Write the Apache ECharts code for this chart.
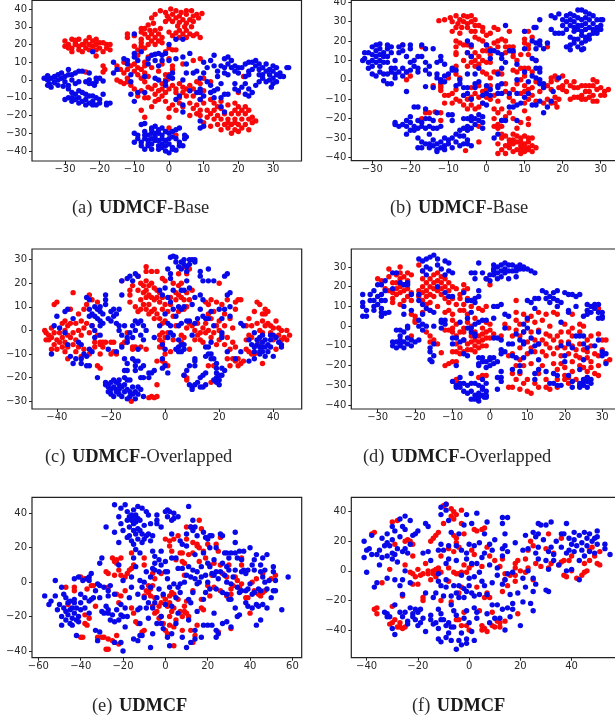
<!DOCTYPE html>
<html><head><meta charset="utf-8">
<style>html,body{margin:0;padding:0;background:#fff}#c{width:615px;height:721px}</style>
<script src="https://cdn.jsdelivr.net/npm/echarts@6/dist/echarts.min.js"></script>
</head><body><div id="c"></div>
<script>
const captions=[["(a)","UDMCF","-Base"],["(b)","UDMCF","-Base"],["(c)","UDMCF","-Overlapped"],["(d)","UDMCF","-Overlapped"],["(e)","UDMCF",""],["(f)","UDMCF",""]];
const aXTicks=[-30,-20,-10,0,10,20,30];
const aYTicks=[-40,-30,-20,-10,0,10,20,30,40];
const bXTicks=[-30,-20,-10,0,10,20,30];
const bYTicks=[-40,-30,-20,-10,0,10,20,30,40];
const cXTicks=[-40,-20,0,20,40];
const cYTicks=[-30,-20,-10,0,10,20,30];
const dXTicks=[-30,-20,-10,0,10,20,30];
const dYTicks=[-40,-30,-20,-10,0,10,20,30];
const eXTicks=[-60,-40,-20,0,20,40,60];
const eYTicks=[-40,-20,0,20,40];
const fXTicks=[-40,-20,0,20,40];
const fYTicks=[-40,-20,0,20,40];

const aRed=[[-2.5,39],[-1,38],[0.5,40],[2,39],[3.5,38],[5,39],[6.5,39],[8,37],[9.5,37.5],[-4,37],[-0.5,36],[1,37],[3,36],[5,37],[7,36],[8.5,35],[-5,35],[0,34.5],[2,35],[4,34],[6,34],[-1,33],[1,33],[3,32.5],[5,32],[7,33],[-4.5,32],[-6,31],[2.5,30.5],[4.5,30],[6.5,30],[3,28],[5,28],[-7,29],[-8,29],[-5.5,28],[-4,28],[-2.5,29],[2,26.5],[4,26],[6,26],[-7,26],[-5,26],[-3,26],[0,27],[1,25],[3,24],[5,24],[7,25],[8,26],[9,24],[-6,24],[-4,24],[-2,24],[-8,23],[-12,24],[-12,26],[-10,25],[-8,27],[-5,22],[-3,22],[-6,20],[-4,20],[-2,21],[-8,21],[-10,19],[-8,19],[-9,17],[-7,18],[0,18],[1,17],[-1,16],[2,17],
[-30,22],[-29,20],[-28,23],[-27,21],[-26,23],[-25,20],[-24,22],[-23,24],[-22,22],[-21,23],[-20,21],[-30,19],[-28,18],[-26,19],[-24,18],[-22,19],[-20,18],[-28,16],[-25,16],[-23,17],[-21,17],[-21,13.5],[-19,16],[-18,20],[-19,21],[-18,18],[-17,20],[-17,17],[-27,20],[-26,17],[-24.5,20],[-23,20],[-29,18],[-27,22.5],[-21,20],[-19,8],[-18.5,6],[-19,4.5],[-24,4.5],
[-15,8],[-14,6],[-13,10],[-13,4],[-15,0],[-14,-1],[-13,-2],[-12,-1],[-12,1],[-11,-3],[-12,6],[-11,8],[-10,9],[-10,5],[-9,7],[-9,3],[-8,6],[-8,1],[-7,8],[-7,4],[-7,-1],[-6,2],[-6,-4],[-5,7],[-5,-5],[-4,-8],[-3,-6],[-4,-3],[-2,-5],[-1,-7],[-2,-9],[0,-5],[1,-3],[2,-5],[3,-2],[4,-4],[4,-7],[5,-5],[5,-9],[6,-3],[7,-5],[7,-9],[3,-10],[2,-7],[-3,-11],[-1,-12],[1,-14],[0,-16],[2,-17],[4,-15],[3,-13],[6,-13],[7,-16],[6,-20],[9,-17],[8,-14],[9,-11],[10,-13],[10,-6],[9,-2],[10,1],[-6,-10],[-8,-6],[-9,-9],[-10,-5],[-7,-10],[-4,-12],[-5,-15],[-8,-17],[-7,-21],[0,-21],[1,6],[0,12],[-2,9],[-3,5],[-1,3],[1,8],[0,3],[-9,14],[-6,13],[-7,10],[4,9],[7,11],[9,12],[12,-1],[-2,-2],[-1,0],[-0.3,0.5],
[12,-11],[13,-13],[14,-15],[15,-12],[13,-17],[15,-16],[17,-14],[19,-13],[20,-15],[19,-17],[21,-17],[23,-17],[22,-15],[12,-19],[14,-20],[16,-19],[18,-19],[20,-19],[22,-19],[24,-21],[25,-23],[11,-21],[13,-22],[15,-22],[17,-22],[19,-22],[21,-22],[23,-22],[12,-26],[14,-25],[16,-25],[18,-25],[20,-25],[22,-25],[24,-24],[15,-28],[17,-27],[19,-28],[21,-27],[23,-28],[18,-30],[20,-29],[10,-24],[9,-20],[11,-17],[8,-19],[17,-24],[19,-24],[0,-27],[2,-31],[21.5,2],[20,-7],[8,-1]];
const aBlue=[[-36,1],[-35,2.5],[-35,0],[-34.5,-2],[-34,1],[-33,-1],[-33,2],[-32,0],[-32,3],[-31,4],[-31,1],[-30,-1],[-30,2],[-29,3],[-29,-3],[-28,0],[-28,3],[-27,4],[-26,5],[-25,5],[-29,6],[-27,-2],[-34,-4],[-32,-3],[-35,-3],[-33,-1.5],[-30.5,-3.5],[-26,-1],[-23,0],[-24,-1],[-22,-2],[-21,-1],[-20,1],[-21,1],[-23,4],[-21.5,-3],[-19,-0.5],[-23,-2],
[-29,-5],[-28,-7],[-27,-8],[-26,-6],[-30,-11],[-29,-10],[-28,-12],[-27,-11],[-26,-10],[-25,-12],[-24,-11],[-23,-13],[-22,-12],[-21,-10],[-22,-9],[-20,-11],[-20,-13],[-24,-8],[-25,-7],[-21,-14],[-23,-9],[-18,-14],[-17,-13],[-19,-8],[-26,-13],[-24,-14],[-22,-14],[-28,-10],[-18,-13],[-22,16],
[-8,-25],[-7,-24.5],[-5,-27],[-4,-26],[-3,-28],[-2,-27],[-10,-30],[-9,-31],[-7,-29],[-6,-31],[-5,-30],[-4,-30],[-3,-30],[-2,-31],[-1,-29],[0,-30],[1,-29],[2,-28],[3,-27],[-10,-35],[-9,-33],[-8,-35],[-7,-33],[-6,-34],[-5,-33],[-4,-34],[-3,-34],[-2,-33],[-1,-34],[0,-33],[1,-32],[2,-33],[3,-35],[4.5,-31],[5,-32],[-8,-37],[-6,-37],[-5,-36],[-3,-37],[-2,-36],[-1,-37],[0,-36],[1,-38],[3,-37],[4,-37],[4.5,-33],[-7,-39],[-5,-39],[-3,-39],[-2,-38],[-1,-40],[0,-41],[1,-39],[-4,-32],[-6,-36],[2,-39.5],[-7,-31],[-5,-28],
[-16,10],[-16,4],[-15,6],[-13,12],[-12,9],[-12,11],[-11,3],[-10,15],[-10,13],[-9,11],[-8,16],[-10,26],[-7,2],[-6,12],[-6,9],[-5,14],[-4,14.5],[-3,15],[-2,14],[-1,15],[-4,11],[-3,8],[-2,11],[0,11],[1,4],[-3,0],[-4,1],[-1,-1],[0,2],[1,1],[2,23],[4,23],[0,20],[2,12],[4,13],[5,9],[6,15],[4,0],[5,4],[7,4],[8,5],[9,1],[-11,-8],[-11,-1],[-9,-7],[-10,-12],[-7,-7],[-1,-3],[2,-11],[3,-9],[4,-14],[4,-18],[6,-6],[8,-7],[9,-5],[9,-11],[10,-9],[9,-23],[9,-27],[10,-26],[12,-7],[12,-3],[11,-1],[10,4],[11,7],[12,11],[10,10],[9,-7],[13,14],
[13,8],[14,5],[14,2],[15,8],[16,7],[15,-2],[16,4],[17,3],[17,9],[16,12],[17,13],[16,-8],[15,-10],[17,-8],[13,-6],[14,-5],[18,7],[18,11],[19,8],[19,5],[20,7],[20,4],[21,7],[22,9],[23,10],[19,-5],[20,-6],[21,-4],[22,-2],[22,-8],[23,-9],[23,-5],[24,-7],[19,-2],[22,2],[23,5],[23,3],[24,6],[25,11],[25,8],[26,9],[24,10],[26,6],[26,3],[27,1],[25,-3],[26,-1],[27,3],[27,7],[28,5],[28,9],[29,6],[29,3],[29,0],[30,8],[30,5],[30,1],[31,3],[31,7],[32,2],[32,4],[33,2],[34,7],[34.5,7],[30,-2],[29.5,-4],[28,-1],[31,-1],[16,-18],[15,-15],[13,-10]];

const bRed=[[-12.5,30.5],[-11,31],[-9.5,32],[-8,33],[-7,31],[-6,33],[-5,32.5],[-4,33],[-9,30],[-7.5,29],[-6,30],[-5,29],[-4,30],[-3,31],[-8,27],[-6.5,27],[-5,27],[-3,28],[-2,28],[-1,27],[-9,25],[-7,24],[-4,25],[-3,25],[-1,25],[0,23],[1,24],[2,27],[3,26],[-8,20],[-7,19],[-6,18],[-5,18],[-4,17],[-3,22],[-2,21],[-1,20],[0,18],[1,16],[2,19],[3,20],[4,21],[5,20],[6,25],[3,17],[5,17],[6,17],[5,14],[-8,17],[-8,14],[-8,13],[-5,14],[-4,12],[-3,14],[-2,12],[-1,15],[-3,10],[-2,8],[-1,10],[0,9],[1,9],[-5,7],[-4,9],[-6,10],[-8,7],[-3,7],[-1,4],[0,3],[1,1],[2,4],[3,4],[4,3],[-8,3],[-7,1],[-10,1],
[-12,-2],[-12,-4],[-11,-8],[-10,-8],[-9,-7],[-8,-5],[-11,-12],[-9,-12],[-8,-10],[-7,-11],[-6,-13],[-5,-15],[-4,-13],[-3,-15],[-2,-14],[-1,-12],[0,-9],[1,-10],[-4,-9],[-3,-7],[-2,-9],[-1,-6],[0,-5],[1,-3],[2,-8],[3,-11],[-2,-3],[-6,-8],[-5,-10],[-4,-4],[-12,-17],[-13.5,-16.5],[-16,-17],[-17,-20],[-12,-21],[2,-15],[3,-17],[4,-15],[2,-20],[3,-23],[2,-24],[3,-25],[4,-24],[4,-21],[5,-19],[6,-17],[4,-28],[-2,-24],[-2,-32],[-5.5,-36.5],
[5,-2],[5,-6],[6,-9],[7,-11],[7,-5],[8,-2],[8,4],[7,5],[9,6],[10,6],[11,6],[12,4],[10,2],[9,0],[10,-3],[11,-5],[11,-10],[10,-12],[12,-4],[12,-8],[13,-1],[13,-11],[14,-6],[15,-4],[16,-3],[15,-12],[17,-1],[17,-5],[17,1],[16,-10],[17,-12],[18,-9],[18,-12],[18.5,-14],[18,2],[18.5,0],[19,-4],[19,-10],[20,-3],[20,-5],[21,-6],[21,-1],[20,2],[22,-3],[22,-10],[23,-9],[23,-1],[23,-4],[24,-9],[25,-8],[26,-6],[25,-10],[26,-10],[27,-6],[27,-9],[28,-11],[28,-8],[29,-11],[28,-3],[29,-5],[30,-8],[30,-4],[31,-6],[32,-5],[31,-8],[26,-3],[29,-1],[24,-4],[25,-3],[27,-3],[28,0],[10,19],[10,21],[11,18],[11,16],[9,13],[7,17],[7,12],[8,10],[11,13],[10,25],[11,25],[12,22],[16,17],[13,10],[9,-7],[10,-6],[7,14],[0,15],[1,13],
[3,-33],[4,-30],[4,-36],[5,-29],[6,-31],[7,-28],[8,-25],[9,-30],[10,-29],[11,-30],[12,-30],[5,-34],[6,-35],[7,-33],[8,-36],[9,-34],[10,-33],[11,-35],[12,-34],[5,-38],[7,-37],[9,-38],[10,-37],[11,-36],[12,-37],[7,-31],[8,-32],[9,-32],[10,-35],[3,-38],[6,-33],[8,-29],[9,-36],[11,-32],[13,-35],[-22,18],[-17,17],[-21,4],[-20,2],[-21,0],[-15,-17],[-12,-5.5],[-14,-3],[-12,-3],[10,-16],[11,-20],[9,-22],[11,-23],[7,-20]];
const bBlue=[[-32.5,10],[-32,11],[-32,14],[-31,14],[-31,9],[-31,6],[-30,17],[-30,13],[-30,10],[-30,7],[-30,3],[-29,18],[-29,15],[-29,12],[-29,9],[-29,2],[-28,18.5],[-28,16],[-28,13],[-28,10],[-28,7],[-28,4],[-27,14],[-27,12],[-27,9],[-27,3],[-26,16],[-26,18],[-26,12],[-26,9],[-26,3],[-27,-0.5],[-26,-2],[-25,-2],[-25,17],[-25,14],[-25,6],[-25,4],[-24,10],[-24,6],[-24,3],[-24,1],[-23,17],[-23,14],[-23,4],[-22,18],[-22,15],[-22,6],[-22,2],[-21,12],[-21,4],[-21,-6],[-20,18],[-20,16],[-20,9],[-20,5],[-19,10],[-19,7],[-18,12],[-18,6],[-18,4],[-17,18],[-17,12],[-16,16],[-16,9],[-16,5],[-15,7],[-15,3],[-14,16],[-14,-4],[-13,9],[-12,12],[-12,10],[-11,8],[-16,-3.5],[-13,1],[-13,3],[-12,0],[-12,-1],[-11,2],[-10,3],[-9,5],[-11,-1],[-8,-3],
[-24,-22],[-24,-23],[-23,-24],[-22,-23],[-21,-21],[-21,-24],[-21,-28],[-20,-22],[-20,-26],[-20,-19],[-19,-24],[-19,-26],[-18,-14],[-19,-14],[-18,-21],[-18,-25],[-17,-22],[-17,-24],[-16,-15],[-16,-20],[-15,-20],[-16,-25],[-15,-24],[-14,-21],[-14,-25],[-15,-28],[-13,-25],[-12,-24],[-18,-30],[-17,-32],[-16,-33],[-18,-35],[-17,-35],[-15,-35],[-15,-33],[-14,-34],[-14,-31],[-13,-36],[-13,-33],[-13,-37],[-12,-35],[-12,-32],[-11,-34],[-11,-36],[-11,-30],[-10,-33],[-10,-31],[-9,-35],[-9,-30],[-8,-32],[-8,-28],[-7,-26],[-7,-29],[-6,-25],[-6,-29],[-6,-33],[-7,-34],[-5,-26],[-5,-31],[-5,-33],[-4,-34],[-4,-25],
[-13,-17],[-10,-18],[-9,-18],[-9,-21],[-6,-20],[-5,-24],[-4,-21],[-4,-19],[-3,-23],[-3,-20],[-2,-18],[-2,-21],[-1,-19],[-1,-22],[-1,-25],[-9,6],[-8,5],[-7,0],[-7,-2],[-6,-4],[-6,-8],[-5,-7],[-5,-4],[-4,-10],[-3,-2],[-3,-4],[-2,6],[-3,3],[-2,-1],[-1,-12],[-1,-8],[0,-13],[0,-7],[0,-3],[1,-5],[1,-8],[3,-4],[3,-7],[3,-3],[4,-2],[4,-7],[3,3],[4,6],[1,11],[1,15],[2,15],[3,14],[4,13],[4,11],[5,9],[-5,20],[-4,18],[0,18],[-5,14],[-5,3],[-4,12],[5,28],[4,-21],[2,-30],[3,-28],[-5,-20],
[6,-7],[6,15],[7,15],[8,0],[8,-7],[8,-13],[8,-21],[6,-14],[7,-14],[5,-21],[9,-12],[10,-9],[11,-7],[12,-13],[13,-13],[11,-1],[10,4],[12,2],[13,1],[14,4],[13,6],[14,6],[14,0],[14,-2],[15,-2],[15,-4],[15,-17],[14,-11],[16,-14],[17,-11],[17.5,-6],[10,25],[12.5,27],[13,27],[14,31],[12,20],[13,19],[14,18],[14,20],[15,16],[16,19],[17,26],[19,24],[18,24],[12,11],[13,10],[10,16],[13,16],[19,1],[8,8],
[17,33],[18,32],[19,34],[20,31],[21,33],[22,34],[23,33],[24,36],[25,36],[26,35],[27,34],[28,33],[29,31],[30,31],[30.5,31],[20,28],[21,30],[22,31],[23,30],[24,32],[25,31],[26,32],[27,31],[28,29],[29,27],[22,28],[23,27],[24,28],[25,28],[26,29],[27,27],[28,26],[30,26],[21,26],[23,25],[24,26],[25,25],[26,26],[29,24],[28,24],[27,23],[26,22],[25,23],[20,24],[22,22],[23,21],[24,21],[23,19],[25,19],[26,20],[27,21],[21,17],[22,18],[22,15.5],[25,15.5],[25.5,16],[24,17],[29,25],[30,28]];

const cRed=[[-44.5,0],[-44,-1],[-43,-2],[-44,-4],[-43,-4],[-42,-3],[-42,1],[-41,-1],[-41,-6],[-40,-4],[-40,-8],[-39,-5],[-39,-1],[-38,-7],[-38,-3],[-38,3],[-37,-9],[-37,-5],[-37,0],[-37,4],[-36,-7],[-36,-2],[-36,-12],[-36,2],[-35,-3],[-35,3],[-35,9],[-34,-6],[-34,-1],[-34,16],[-33,-9],[-33,-4],[-33,3],[-32,-7],[-32,0],[-32,7],[-31,-2],[-31,4],[-31,-11],[-30,-8],[-30,1],[-30,9],[-29,3],[-29,11],[-28,-1],[-28,-10],[-28,15],[-27,13],[-27,2],[-26,-5],[-26,-7],[-25,-2],[-24,-6],[-24,-10],[-24,-5],[-23,-5],[-23,-7],[-22,-5],[-25,12],[-41,11],[-40,12],[-42,-8],[-20,-10],[-19,-9],[-19,-5],[-20,-5],[-25,-15],[-24,-16],[-16,-6],[-14,-4],[-14,-1],[-12,-8],[-11,-7],
[-16,21],[-13,17],[-13,15],[-12,19],[-10,23],[-10,17],[-9,13],[-9,20],[-8,16],[-8,19],[-8,11],[-7,27],[-7,25],[-7,21],[-7,17],[-7,14],[-7,9],[-6,19],[-6,15],[-6,11],[-5,20],[-5,14],[-5,8],[-4,18],[-4,13],[-4,9],[-4,5],[-3,17],[-3,14],[-3,7],[-3,25],[-2,12],[-2,16],[-2,5],[-1,9],[-1,14],[0,21],[0,11],[0,4],[-1,3],[-10,8],[-11,10],[-13,12],[-9,9],[-6,7],[-5,25],[-1,22],
[1,8],[2,11],[2,14],[3,20],[3,6],[4,13],[4,16],[4,2],[5,24],[5,19],[5,15],[5,8],[6,20],[6,14],[7,13],[7,27],[7,9],[8,24],[8,10],[8,16],[9,13],[9,26],[9,3],[10,17],[10,2],[11,0],[12,3],[12,-2],[11,-4],[13,-1],[13,-4],[14,1],[14,-5],[15,3],[15,-1],[15,12],[16,7],[16,0],[16,11],[17,-3],[17,13],[17,5],[18,-1],[18,8],[19,-6],[19,2],[19,12],[20,4],[20,0],[20,20],[20,-4],[21,11],[21,-2],[22,-6],[22,7],[22,2],[23,-3],[23,13],[24,5],[24,-8],[25,-5],[25,1],[26,9],[26,12],[26,-7],[27,13],[28,13],[27,-12],[26,-13],[25,-12],[23,-12],[24,-15],[27,-15],[28,-14],[29,-13],[30,-8],[31,-9],[32,-10],[30,-4],[31,-2],[30,2],[31,5],[32,-3],[32,2],[33,8],[34,12],[35,11],[34,3],[35,0],[36,7],[36,4],[37,9],[37,7],[36,-1],[37,2],[38,3],[38,8],[39,-1],[39,2],[40,-4],[40,1],[41,4],[41,-8],[42,-2],[42,1],[43,0],[43,-4],[44,-3],[45,0],[45,-4],[46,-2],[36,-14],[35,-5],[33,-10],
[-3,-13],[-2,-7],[-1,-7],[-1,-5],[-1,-13],[-1,-1],[-2,-4],[0,-3],[0,-10],[0,-14],[1,-15],[2,-9],[1,-1],[-3,-23],[-6,-28.5],[-5,-28],[-4,-28.5],[-3,-28],[-12.5,-30],[6,-2],[6,-5],[3,-4],[7,-3],[7,-19],[8,-20],[8,-21],[17,-22],[16,-15],[18,-15],[-7,-8],[-9,-7],[-12,-7],[-18,-10],[-2,-2],[8,1],[9,-8],[-15,-5]];
const cBlue=[[-42,-10],[-41,2],[-40,6],[-39,1],[-37,-1],[-37,8],[-36,9],[-36,-6],[-35,-11],[-34,-14],[-34,5],[-33,-12],[-32,-5],[-31,-6],[-31,-12],[-31,-14],[-30,-10],[-29,-11],[-28,-8],[-28,-15],[-29,-15],[-27,-9],[-28,6],[-28,9],[-29,14],[-28,13],[-27,7],[-26,10],[-26,6],[-25,9],[-25,-20],[-25,5],[-24,8],[-24,4],[-24,10],[-23,3],[-23,7],[-22,11],[-22,15],[-21,5],[-21,-8],[-20,8],[-20,4],[-19,9],[-19,6],[-18,3],[-18,7],[-17,2],[-17,9],[-17,0],[-16,15],[-16,-2],[-16,-7],[-15,-12],[-15,2],[-14,-5],[-13,-1],[-14,-3],[-12,2],[-12,-3],[-11,4],[-11,0],[-10,-8],[-10,3],[-9,-2],[-9,4],[-8,2],[-8,-4],[-7,0],[-16,21],[-14,22],[-13,23],[-12,21],[-11,24],[-10,23],[-24,-2],[-26,-3],[-26,0],[-24,2],[-27,2],[-22,13],[-18,-9],[-14,-14],[-15,-17],[-14,-17],[-12,-12],[-11,-13],[-11,-15],[-11,-17],[-10,-13],[-9,-16],[-8,-15],[-9,-20],[-8,-20],[-6,-20],[-6,-18],[-5,-18],[-4,-17],
[-22,-22],[-22,-23],[-21,-24],[-21,-26],[-20,-22],[-20,-25],[-20,-27],[-19,-21],[-19,-24],[-19,-28],[-18,-22],[-18,-25],[-18,-26],[-17,-21],[-17,-23],[-17,-25],[-17,-27],[-16,-24],[-16,-28],[-15,-20],[-15,-23],[-15,-26],[-14,-21],[-14,-25],[-13,-21],[-13,-26],[-13,-28],[-12,-24],[-12,-27],[-11,-26],[-11,-29],[-10,-24],[-10,-27],[-9,-25],[-8,-28],[-14,-29],[-21,-23],
[2,31],[3,31.5],[4,31],[5,27],[4,29],[6,26],[6,29],[7,28],[7,30],[8,27],[8,25],[9,28],[9,30],[10,30],[11,30],[11,29],[8,21],[9,18],[1,26],[2,24],[2,22],[-2,17],[-1,15],[1,14],[2,12],[3,17],[3,9],[4,6],[5,2],[5,10],[6,9],[6,17],[6,3],[7,10],[7,17],[8,4],[9,4],[10,11],[10,-2],[11,3],[11,14],[12,5],[13,15],[13,9],[13,25],[13,23],[14,13],[14,6],[14,21],[15,5],[15,-7],[16,5],[16,26],[16,21],[17,8],[17,-10],[18,21],[18,-12],[19,-14],[18,2],[20,9],[21,5],[21,-1],[21,-3],[22,9],[22,23],[23,24],[24,6],[23,15],[24,16],[24,10],[2,-1],[1,3],[3,-2],[5,-4],[5,-7],[5,-9],[6,-6],[7,-6],[7,-8],[6,-9],[4,-8],[2,2],[0,7],[1,-3],[-1,-6],[0,-8],[-1,-12],[-4,-3],[0,-15],[1,-18],[-1,-16],[-2,2],[0,18],
[7,-19],[8,-17],[9,-15],[9,-23],[10,-24],[11,-23],[10,-25],[11,-15],[11,-12],[11,-13],[12,-22],[13,-20],[13,-24],[14,-19],[15,-18],[14,-24],[15,-23],[16,-7],[16,-10],[17,-12],[19,-16],[19,-18],[20,-19],[20,-21],[20,-23],[21,-16],[21,-19],[19,-20],[22,-17],[19,-22],[18,-21],[26,-12],[31,-13],[33,-1],[33,-9],[33,-12],[34,-4],[34,-6],[35,-3],[35,-7],[35,-10],[36,-2],[36,-5],[36,-7],[36,-9],[37,-4],[37,-7],[37,-11],[38,-6],[38,-9],[39,-2],[39,-4],[39,-7],[40,-11],[40,-2],[41,-3],[42,-5],[43,-6],[43,-7],[33,-7],[35,-9],[29,2],[31,-4],[32,-6],[28,-9],[28,3],[23,-9],[15,-11],[17,-5]];

const dRed=[[-30,24],[-29,23],[-27,29],[-27,25],[-27,18],[-28,19],[-26,22],[-26,17],[-26,14],[-26,12],[-25,26],[-25,22],[-25,19],[-25,16],[-24,30],[-24,27],[-24,24],[-24,20],[-24,17],[-24,11],[-23,25],[-23,21],[-23,18],[-23,13],[-22,27],[-22,23],[-22,19],[-22,15],[-21,26],[-21,17],[-21,13],[-21,6],[-20,5],[-20,3],[-20,2],[-21,-5],[-19,18],[-19,15],[-19,31],[-18,28],[-18,24],[-18,20],[-18,17],[-18,13],[-18,7],[-17,22],[-17,18],[-17,15],[-17,11],[-16,24],[-16,20],[-16,16],[-16,12],[-16,8],[-15,26],[-15,22],[-15,19],[-15,15],[-14,27],[-14,23],[-14,18],[-14,10],[-13,22],[-13,25],[-13,19],[-13,16],[-12,24],[-12,20],[-12,14],[-12,7],[-11,22],[-11,18],[-11,12],[-11,8],[-10,20],[-10,14],[-10,6],[-9,19],[-9,11],[-8,16],[-8,8],[-8,14],[-7,21],[-7,18],[-7,11],[-7,8],[-6,19],[-6,14],[-6,6],[-5,10],[-17,-3],[-16,-5],[-15,-7],[-16,-8],[-14,-9],[-13,-13.5],
[-12,-20],[-11,-19],[-10,-18],[-9,-18],[-9,-28],[-9,-27],[-12,-2],[-11,-2],[-10,-1],[-10,-3],[-10,3],[-9,1],[-9,-5],[-9,-9],[-10,-13],[-9,-13],[-8,-3],[-8,-11],[-8,-14],[-7,-1],[-7,-7],[-7,-13],[-7,-3],[-6,2],[-6,-9],[-6,-12],[-5,0],[-5,-5],[-5,-8],[-5,-12],[-4,4],[-4,-3],[-4,-7],[-4,-10],[-4,-13],[-3,9],[-3,-5],[-3,-8],[-3,-11],[-2,8],[-2,-1],[-2,-4],[-2,-7],[-2,-10],[-1,10],[-1,2],[-1,-3],[-1,-6],[-1,-10],[0,1],[0,-2],[0,-6],[-2,-25],[-3,-26],[-1,-25],[-1,24],[0,21],[1,-4],
[3,-5],[4,1],[5,-1],[5,-15],[5,-31],[6,-14],[6,-5],[6,-24],[6,-31],[7,-2],[7,-20],[7,-27],[7,3],[7,7],[7,13],[8,1],[8,-5],[8,-11],[8,-17],[8,-24],[8,-32],[9,6],[9,-3],[9,-20],[9,-29],[10,3],[10,-8],[10,-27],[10,-14],[10,-33],[11,-11],[11,-3],[11,-19],[11,-34],[11,5],[12,2],[12,-7],[12,-29],[12,-13],[13,7],[13,-2],[13,-9],[13,-24],[13,-31],[14,3],[14,-7],[14,-13],[14,-20],[15,-4],[15,-9],[15,-15],[15,6],[15,-27],[15,-31],[16,-5],[16,-11],[16,0],[16,-32],[17,-7],[17,-14],[17,7],[17,-19],[18,-5],[18,-11],[18,6],[18,-22],[18,-31],[18,-27],[19,-15],[19,-19],[19,-8],[19,-3],[20,1],[20,-11],[20,-21],[20,-25],[20,-27],[21,-3],[21,-14],[21,-8],[21,-26],[22,-1],[22,-5],[22,-18],[22,-23],[22,-10],[22,6],[23,-12],[23,-27],[23,-15],[24,-3],[24,-9],[24,-16],[24,-20],[24,1],[25,-12],[25,-21],[25,0],[26,-7],[26,-16],[26,-23],[26,-13],[27,-10],[27,-18],[27,-5],[27,-21],[28,-14],[28,-24],[29,-4],[29,-20],[29,-25],[29,-15],[29,9],[30,-7],[30,-12],[31,-7],[31,-18],[32,-17],[21,-29],[26,-26]];
const dBlue=[[-34,16],[-34,12],[-34,10],[-34,5],[-33,5],[-33,8],[-32,13],[-32,16],[-31,18],[-31,10],[-31,8],[-31,13],[-30,15],[-30,21],[-30,11],[-29,21],[-29,16],[-29,13],[-29,9],[-29,7],[-28,23],[-28,18],[-28,13],[-29,5],[-28,6.5],[-27,7],[-26,27],[-26,19],[-25,27],[-24,22],[-23,21],[-23,6],[-23,10],[-22,22],[-22,21],[-21,16],[-21,8],[-25,-2],[-24,-2],[-24,-5],[-23,-3],[-22,0],[-22,-1],[-26,-8],[-25,-8],[-24,-7],[-24,-10],[-23,-8],[-22,-9],[-22,-6],[-21,-10],[-21,-7],[-20,-8],[-19,-7],[-26,-10],[-25,-11],[-23,-11],[-24,-9],
[-19,34],[-18,33],[-17,34],[-17,30],[-16,35],[-15,36],[-14,34],[-14,31],[-13,29],[-12,33],[-16,29],[-18,28],[-17,26],[-11,32],[-11,28],[-12,26],[-10,27],[-14,20],[-12,17],[-11,15],[-10,15],[-19,16],[-19,13],[-18,11],[-18,6],[-17,9],[-16,8],[-15,7],[-19,3],[-19,0],[-18,1],[-18,-2],[-17,0],[-15,0],[-13,-1],[-13,2],[-13,3],[-12,1],[-12,3],[-7,17],[-6,13],[-5,13],[-4,14],[-3,15],[-4,12],[-3,18],[-2,3],[-5,-1],[-6,-1],[-4,1],[-4,-4],[-3,2],[-8,-8],[-10,-6],[-10,-9],[-7,-7],[-7,-14],[-6,-15],[-6,4],[-5,7],[-4,-5],[-15,-9],[-16,-11],[-16,-13],[-15,-15],[-16,-17],[-15.5,-18],[-9,-6],[-9,-20],[-8,2],[-5,-3],[-1,3],
[-5,27],[-4,27],[-4,24],[-3,32],[-2,27],[-1,24],[0,26],[0,23],[1,28],[1,31],[1,29],[1,26],[2,30],[2,27],[2,24],[3,31],[3,28],[3,25],[4,32],[4,29],[4,27],[5,31],[5,28],[5,24],[6,31],[6,28],[7,30],[7,28],[8,31],[8,29],[9,29],[9,30],[10,29],[11,28],[12,27],[7,25],
[-10,-28],[-9,-30],[-9,-31],[-8,-29],[-8,-26],[-8,-31],[-7,-29],[-7,-33],[-6,-30],[-6,-34],[-5,-29],[-5,-33],[-5,-37],[-5,-24],[-4,-29],[-4,-35],[-4,-37],[-3,-34],[-3,-38],[-3,-36],[-3,-30],[-2,-32],[-2,-35],[-2,-31],[-1,-33],[-1,-36],[-1,-29],[-1.5,-36],[-1,-35],[-2,-27],[-3,-16],[-3,-19],[-3,-20],[-2,-16],[-2,-18],[-1,-18],[-1,-21],[0,-17],[0,-16],[0,-20],[1,-16],[1,-19],[2,-32],[2,-26],[2,-18],[3,-23],[3,-26],[3,-28],
[1,-6],[1,4],[1,10],[2,10],[2,-6],[3,-7],[3,11],[3,-14],[3,-12],[4,-13],[4,6],[4,-1],[5,5],[5,-9],[6,-15],[6,-22],[6,-9],[7,-16],[7,-4],[8,-23],[8,-7],[8,-20],[9,-16],[9,-8],[9,-9],[9,-3],[9,1],[10,4],[10,-1],[10,13],[11,-6],[11,-13],[11,12],[12,-24],[12,-27],[12,-10],[13,-22],[13,-17],[13,-9],[13,-3],[12,14],[12,9],[13,14],[14,18],[15,17],[15,14],[16,15],[16,12],[17,17],[17,14],[18,13],[18,18],[18,10],[19,12],[19,2],[19,-10],[20,17],[21,16],[21,8],[21,7],[22,16],[23,15],[23,10],[24,16],[15,-23],[16,-29],[17,-29],[17,-24],[18,-30],[19,-30],[18,-25],[20,-15],[21,-25],[22,-28],[22,-31],[23,-5],[24,-5],[25,-5],[25,-28],[25,-27],[24,-30],[25,-30],[26,-26],[26,-28],[27,-29],[27,-27],[26,-31],[24,-29],[24,-31],[26,11],[27,10],[26,8],[27,7],[28,11],[29,11],[28,9],[29,7],[25,5],[26,6],[30,5],[30,4],[30,7],[29,4],[29,-7],[28,-10],[30,-13],[31,-14],[30,-15],[31,-19],[25,-9],[26,-11],[22,-11],[21,-9],[20,-18],[25,-17],[24,-22]];

const eRed=[[-47,-3],[-46,-13],[-43,-3],[-43,-5],[-40,-32],[-39,-32],[-40,3],[-38,2],[-38,-19],[-38,-24],[-37,-25],[-37,-4],[-36,-21],[-35,-2],[-34,-2],[-33,-14],[-32,-32],[-30,-32],[-29,-32],[-28,-39],[-27,-39],[-27,-33],[-25,-34],[-24,-35],[-23,-31],[-22,-36],[-28,6],[-27,5],[-27,-3],[-25,14],[-24,12],[-24,4],[-23,11],[-23,13],[-22,7],[-21,14],[-21,4],[-23,-7],[-21,-8],[-22,-12],[-19,-5],[-19,3],[-18,5],[-17,7],[-16,8],[-16,17],[-15,10],[-16,-15],[-15,-18],[-14,-23],[-13,-24],[-11,-29],[-10,-28],[-10,10],[-10,14],[-10,-8],[-9,-5],[-8,-2],[-8,-6],[-7,-4],[-7,-8],[-6,-2],[-6,5],[-6,-14],[-5,2],[-5,-9],[-5,-18],[-4,-17],[-3,-21],[-3,-14],[-2,-20],[-2,-12],[-2,5],[-1,-8],[-1,-24],[0,25],[0,-10],[0,-28],[1,-30],[1,-14],[2,24],[2,21],[2,-8],[2,-12],[2,-20],[2,-25],[3,18],[3,-6],[3,-17],[4,-7],[4,-15],[4,25],[4,-37],[4,-26],[5,13],[5,-22],[6,27],[6,-10],[7,-17],[7,17],[8,-28],[8,-20],[8,17],[8,12],[9,-17],[9,11],[9,4],[9,-14],[10,-18],[10,32],[10,25],[10,-11],[11,-20],[11,16],[12,32],[12,-28],[13,23],[13,17],[13,-5],[13,-35],[14,-31],[15,21],[15,22],[15,-25],[16,36],[16,20],[16,12],[17,31],[17,-15],[17,-10],[18,-16],[18,18],[19,14],[20,-2],[20,22],[21,10],[21,-8],[22,4],[23,-3],[23,11],[24,22],[25,18],[25,-29],[26,10],[26,-5],[26,26],[27,5],[29,3],[29,-8],[30,10],[31,-4],[31,-27],[31,-7],[32,-2],[33,3],[34,1],[35,-3],[36,14],[36,-1],[36,10],[38,-9],[39,-9],[40,-18],[41,0],[42,-5],[43,2],[44,-7],[45,-8],[46,-6],[46,5],[47,-5],[50,2],[52,4]];
const eBlue=[[-57,-8],[-55,-13],[-54,-11],[-52,-8],[-52,1],[-51,-16],[-50,-13],[-49,-20],[-49,-25],[-49,-3],[-48,-7],[-48,-15],[-47,-9],[-47,-17],[-47,-22],[-46,-12],[-46,-19],[-45,-11],[-45,-24],[-45,-16],[-44,-15],[-44,-21],[-44,-25],[-43,-12],[-43,-18],[-43,-10],[-43,2],[-42,-31],[-42,-22],[-42,-15],[-41,-23],[-41,-20],[-41,3],[-40,-7],[-40,-16],[-40,-12],[-39,1],[-38,-15],[-38,-9],[-37,2],[-36,-18],[-36,-11],[-36,1],[-36,3],[-35,5],[-35,-10],[-34,-9],[-33,-28],[-32,-34],[-33,-5],[-32,-1],[-31,-29],[-31,-9],[-31,-2],[-30,14],[-31,11],[-30,-17],[-29,-18],[-29,-3],[-28,-14],[-27,-16],[-27,-18],[-27,-8],[-27,-5],[-26,-22],[-26,-2],[-25,-19],[-24,-23],[-24,-7],[-24,29],[-24,-35],[-23,-16],[-22,-22],[-22,10],[-21,-19],[-21,-13],[-21,-35],[-20,-40],[-20,-20],[-20,1],[-19,-15],[-19,-26],[-18,-20],[-17,-9],[-16,-3],[-16,3],[-15,-33],[-14,9],[-13,-34],[-13,-16],[-13,-7],[-12,-31],[-12,-24],[-12,-15],[-12,1],[-11,-31],[-11,-3],[-10,-9],[-10,0],[-9,-15],[-9,6],[-8,-12],[-7,-38],[-7,-3],[-7,3],[-6,-30],[-6,-15],[-5,7],[-5,-12],[-4,-9],[-4,-24],[-3,6],[-3,-4],[-2,-20],[-2,-24],[-1,-27],[-1,-7],[0,6],[0,-13],[1,-32],[2,-3],[2,-37],[3,-14],[3,-30],[4,-1],[5,-9],[5,-24],[6,-18],[7,-6],[8,-32],[8,8],[9,0],[10,-38],[11,-22],[11,-10],[12,3],[12,-35],[13,-6],[14,-33],[14,-28],[15,-17],[16,0],[17,-32],[18,-25],[18,-10],[19,4],[20,-25],[21,-4],[22,-25],[23,-18],[24,-32],[24,-28],[25,-30],[27,-24],[29,-23],[29,-7],[30,-10],[31,-26],[33,-15],[34,-20],[35,-19],
[-28,32],[-24,45],[-22,38],[-22,23],[-21,43],[-21,34],[-20,30],[-19,45],[-18,41],[-18,36],[-18,26],[-17,38],[-17,32],[-17,27],[-16,36],[-16,39],[-16,24],[-15,42],[-15,37],[-15,34],[-15,30],[-15,22],[-14,39],[-14,35],[-14,28],[-14,19],[-13,37],[-13,31],[-13,25],[-13,44],[-12,30],[-12,36],[-11,43],[-11,28],[-11,23],[-10,33],[-10,25],[-9,41],[-9,27],[-8,28],[-8,39],[-7,24],[-7,34],[-6,27],[-4,39],[-4,36],[-4,34],[-2,32],[0,41],[1,42],[1,38],[2,41],[3,36],[4,40],[4,37],[6,38],[-2,18],[-3,13],[-5,15],[-6,18],[-12,17],[-15,14],[-5,11],[-6,8],
[-2,10],[0,12],[1,6],[1,2],[3,28],[3,14],[5,14],[6,8],[7,24],[7,-1],[8,22],[10,28],[10,21],[10,4],[11,44],[12,32],[11,9],[13,36],[13,30],[13,7],[14,32],[14,16],[14,2],[15,27],[15,6],[15,-1],[17,9],[17,3],[18,17],[18,29],[19,26],[20,25],[20,11],[20,0],[21,27],[21,20],[21,9],[22,5],[22,27],[23,13],[23,4],[24,20],[24,6],[24,-4],[26,28],[27,27],[27,11],[26,6],[27,-6],[28,17],[28,4],[29,17],[29,9],[29,0],[30,14],[30,7],[31,17],[31,-1],[31,-10],[33,29],[33,23],[33,17],[33,7],[34,14],[34,-3],[35,18],[36,13],[36,6],[36,-5],[37,18],[37,7],[38,-5],[38,-12],[39,7],[39,-4],[39,-14],[40,20],[40,-1],[41,-7],[41,-15],[42,13],[42,7],[42,-6],[43,16],[43,-13],[43,-25],[44,-4],[44,-14],[45,-22],[45,6],[45,-5],[45,10],[46,14],[46,3],[46,-13],[47,7],[47,0],[48,16],[48,-15],[48,-4],[49,1],[50,-9],[51,9],[51,6],[51,-5],[52,-5],[52,1],[55,-16],[58,3],[41,10],[38,5],[35,-6],[32,3],[25,2],[19,-6],[12,-12],[6,-3],[-8,-21]];

const fRed=[[-38,25],[-37,26],[-37,-26],[-36,-25],[-36,-29],[-34,-8],[-31,-36],[-30,-24],[-30,-35],[-29,-33],[-28,-38],[-27,-35],[-27,-38],[-26,-39],[-25,-38],[-31,1],[-30,33],[-28,34],[-26,-16],[-26,-17],[-29,18],[-25,20],[-25,4],[-24,21],[-23,20],[-22,10],[-22,18],[-23,-1],[-22,-2],[-22,-9],[-21,-4],[-20,-9],[-20,1],[-19,-3],[-18,-2],[-18,-18],[-18,-20],[-17,5],[-16,0],[-16,-2],[-15,-6],[-15,20],[-14,0],[-14,22],[-14,-2],[-13,1],[-13,24],[-13,-4],[-12,26],[-12,-1],[-12,2],[-11,-1],[-11,-20],[-11,10],[-10,32],[-9,45],[-10,44],[-8,2],[-8,-7],[-8,15],[-7,42],[-7,37],[-7,-21],[-6,40],[-6,35],[-6,24],[-6,13],[-6,-1],[-5,38],[-5,22],[-5,19],[-5,-2],[-5,-33],[-4,-2],[-4,-15],[-4,-33],[-4,16],[-3,32],[-3,41],[-3,-1],[-3,-11],[-3,-37],[-2,25],[-2,4],[-2,-28],[-1,-1],[-1,-37],[0,2],[0,-40],[1,4],[1,14],[2,11],[2,28],[3,27],[3,-11],[4,-27],[5,28],[5,3],[5,-37],[5,-40],[6,29],[6,-18],[6,-39],[7,-15],[7,-41],[7,16],[8,-18],[8,10],[9,-37],[9,-28],[10,-38],[10,7],[11,-34],[12,3],[12,-35],[12,-38],[13,-14],[13,8],[14,-6],[14,-34],[14,-2],[15,-10],[16,-3],[18,5],[18,-3],[18,-7],[18,2],[19,7],[19,-29],[20,0],[22,-1],[22,8],[23,2],[23,14],[24,20],[25,17],[26,5],[25,-6],[28,3],[30,15],[31,25],[31,2],[32,5],[33,12],[35,4],[36,6],[36,22],[37,-3],[37,7],[38,-4],[39,7],[40,0],[40,10],[42,-5],[44,-3],[45,5],[45,-1],[46,0],[47,7],[47,14],[48,16],[49,10],[50,5],[51,4],[51,13]];
const fBlue=[[-41,9],[-41,20],[-40,14],[-40,-1],[-39,15],[-38,11],[-38,24],[-37,-11],[-36,11],[-36,-8],[-35,4],[-35,14],[-34,9],[-34,22],[-33,17],[-33,-28],[-32,19],[-32,25],[-32,10],[-32,-29],[-32,-5],[-32,-31],[-31,17],[-30,8],[-30,12],[-31,-31],[-30,21],[-30,30],[-30,-39],[-29,11],[-29,-23],[-29,27],[-29,-6],[-29,-43],[-28,15],[-28,6],[-27,-28],[-27,-10],[-27,23],[-27,35],[-26,30],[-26,13],[-26,-6],[-26,-16],[-26,-31],[-25,28],[-25,37],[-25,15],[-25,0],[-25,-28],[-24,12],[-24,-34],[-24,-36],[-23,34],[-23,18],[-23,-25],[-23,-8],[-22,-29],[-22,-31],[-22,24],[-21,25],[-21,-26],[-21,-33],[-20,27],[-20,-28],[-20,-37],[-19,-26],[-19,-35],[-18,12],[-18,-32],[-17,32],[-17,-15],[-17,-41],[-16,30],[-16,13],[-15,7],[-15,-30],[-15,-33],[-14,-36],[-14,-18],[-13,-15],[-13,-35],[-12,14],[-12,-2],[-12,-7],[-12,-26],[-12,-39],[-12,-46],[-11,-48],[-11,-10],[-11,-29],[-11,-33],[-11,18],[-11,38],[-11,43],[-10,-17],[-10,-33],[-10,14],[-9,45],[-9,41],[-9,-11],[-9,-6],[-9,-45],[-9,-37],[-9,5],[-8,34],[-8,17],[-8,8],[-8,-35],[-8,-42],[-7,-23],[-7,-38],[-7,-47],[-7,26],[-7,-17],[-6,-10],[-6,-27],[-6,-38],[-5,-53],[-5,-30],[-5,-15],[-5,7],[-5,17],[-4,-18],[-4,-10],[-4,-47],[-4,25],[-3,-42],[-3,-50],[-3,-3],[-3,14],[-2,-18],[-2,-12],[-2,31],[-2,-32],[-1,38],[-1,-27],[-1,12],[-1,8],[-1,-14],[-1,-46],[-1,-49],[0,-35],[0,-5],[0,18],[0,-10],[1,-41],[1,-15],[1,5],[1,32],[2,17],[2,-47],[2,-25],[2,-17],[2,-4],[3,39],[3,-28],[3,-32],[3,5],[4,19],[4,-1],[4,-16],[5,9],[5,-7],[6,12],[6,25],[6,-10],[7,33],[7,-29],[7,-16],[8,4],[8,18],[8,-35],[9,14],[9,-23],[9,-8],[10,21],[10,-32],[11,-3],[11,-23],[11,2],[12,-32],[13,36],[13,32],[13,-26],[13,-9],[13,15],[13,10],[14,-40],[14,-6],[14,17],[15,36],[14,25],[15,-25],[15,-2],[15,13],[16,-31],[16,-16],[17,-1],[17,-22],[17,-26],[18,19],[19,-15],[20,-37],[21,14],[21,-5],[21,-21],[22,24],[22,-11],[23,0],[23,15],[24,-22],[25,-27],[25,26],[25,-14],[25,-5],[26,-9],[26,12],[26,23],[27,32],[27,25],[27,8],[27,16],[28,31],[29,21],[30,31],[30,7],[30,-13],[31,-14],[31,13],[31,1],[32,33],[32,16],[33,11],[34,20],[33,7],[35,4],[36,25],[36,16],[37,25],[38,32],[38,12],[38,0],[39,22],[39,14],[40,18],[40,1],[41,26],[41,21],[41,13],[42,17],[43,-6],[43,7],[43,24],[44,14],[44,19],[45,26],[45,10],[46,22],[46,17],[47,25],[47,13],[48,20],[49,22],[49,12],[50,27],[50,18],[50,23],[53,18],[53,15],[55,11]];

// panel frames: pixels and axis extents
const panels=[
 {l:32,t:0.5,w:269.5,h:160.5,x:[-39.5,38.2],y:[44.8,-45.6],xt:aXTicks,yt:aYTicks,r:aRed,b:aBlue,cx:72,cy:208},
 {l:351.3,t:0.5,w:270,h:160.2,x:[-35.5,35.4],y:[40.9,-41.7],xt:bXTicks,yt:bYTicks,r:bRed,b:bBlue,cx:390,cy:208},
 {l:32,t:249,w:269.7,h:160,x:[-49.2,50.5],y:[34.5,-33.3],xt:cXTicks,yt:cYTicks,r:cRed,b:cBlue,cx:45,cy:457},
 {l:351.3,t:249,w:270,h:160,x:[-37.05,35.1],y:[39.1,-42],xt:dXTicks,yt:dYTicks,r:dRed,b:dBlue,cx:363,cy:457},
 {l:32,t:497.3,w:269.7,h:160.4,x:[-63,64.4],y:[49.3,-43.9],xt:eXTicks,yt:eYTicks,r:eRed,b:eBlue,cx:92,cy:706},
 {l:351.3,t:497.3,w:270,h:160.4,x:[-46,59.4],y:[49.7,-58.7],xt:fXTicks,yt:fYTicks,r:fRed,b:fBlue,cx:412,cy:706}
];
const minus=v=>String(v).replace('-','\u2212');
const dark='#222';
const tickFont={fontFamily:'DejaVu Sans',fontSize:10,color:'#2a2a2a',formatter:minus};
const serif='Liberation Serif';
const grid=[],xAxis=[],yAxis=[],series=[],title=[];
panels.forEach((p,i)=>{
 grid.push({left:p.l,top:p.t,width:p.w,height:p.h,show:true,backgroundColor:'#fff',borderColor:dark,borderWidth:1.2,containLabel:false,outerBoundsMode:'none'});
 const common={gridIndex:i,type:'value',splitLine:{show:false},axisPointer:{show:false}};
 const line={show:false,onZero:false};
 const tick=t=>({show:true,length:3,lineStyle:{color:dark,width:1},customValues:t});
 xAxis.push({...common,position:'bottom',min:p.x[0],max:p.x[1],axisLine:line,axisTick:tick(p.xt),
   axisLabel:{...tickFont,margin:3.5,customValues:p.xt}});
 yAxis.push({...common,position:'left',min:p.y[1],max:p.y[0],axisLine:line,axisTick:tick(p.yt),
   axisLabel:{...tickFont,margin:5,customValues:p.yt}});
 series.push({type:'scatter',xAxisIndex:i,yAxisIndex:i,data:p.r,symbolSize:5.4,itemStyle:{color:'#f80808',opacity:1},silent:true,animation:false,clip:true});
 series.push({type:'scatter',xAxisIndex:i,yAxisIndex:i,data:p.b,symbolSize:5.4,itemStyle:{color:'#0808e8',opacity:1},silent:true,animation:false,clip:true});
 const c=captions[i];
 title.push({left:p.cx,top:p.cy-9,padding:0,text:'{a|'+c[0]+'}{g|  }{b|'+c[1]+'}{a|'+c[2]+'}',
  textStyle:{fontWeight:'normal',rich:{a:{fontFamily:serif,fontSize:18.4,fontWeight:'normal',color:'#2a2a2a'},g:{fontFamily:serif,fontSize:13,fontWeight:'normal'},b:{fontFamily:serif,fontSize:18.4,fontWeight:'bold',color:'#1a1a1a'}}}});
});
const chart=echarts.init(document.getElementById('c'),null,{renderer:'canvas'});
chart.setOption({animation:false,backgroundColor:'#fff',title,grid,xAxis,yAxis,series,tooltip:{show:false}});
</script></body></html>
